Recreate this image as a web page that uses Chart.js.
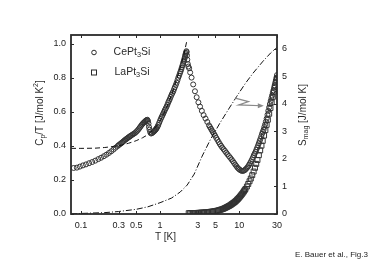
<!DOCTYPE html>
<html lang="en">
  <head>
    <meta charset="utf-8" />
    <title>CePt3Si specific heat</title>
    <style>
      html, body { margin: 0; padding: 0; background: #fff; }
      #wrap { width: 382px; height: 270px; }
    </style>
  </head>
  <body>
    <div id="wrap"><canvas id="chart" width="382" height="270"></canvas></div>
    <script src="https://cdn.jsdelivr.net/npm/chart.js@4/dist/chart.umd.min.js"></script>
    <script>
      // CePt3Si, Cp/T (circles)
      const ceT = [0.081, 0.089, 0.097, 0.106, 0.116, 0.127, 0.139, 0.152, 0.166, 0.18, 0.195, 0.21, 0.226, 0.242,
        0.258, 0.275, 0.292, 0.31, 0.33, 0.35, 0.37, 0.39, 0.41, 0.43, 0.46, 0.49, 0.52, 0.55, 0.58, 0.61, 0.64,
        0.665, 0.69, 0.705, 0.715, 0.725, 0.735, 0.75, 0.77, 0.79, 0.82, 0.85, 0.88, 0.91, 0.95, 1.0, 1.05, 1.1,
        1.15, 1.21, 1.27, 1.33, 1.4, 1.47, 1.54, 1.62, 1.7, 1.78, 1.85, 1.92, 1.98, 2.03, 2.08, 2.12, 2.15, 2.17,
        2.19, 2.21, 2.24, 2.28, 2.33, 2.4, 2.5, 2.62, 2.76, 2.9, 3.05, 3.2, 3.37, 3.55, 3.75, 3.95, 4.15, 4.4,
        4.65, 4.95, 5.3, 5.7, 6.1, 6.6, 7.1, 7.7, 8.3, 8.9, 9.5, 10.1, 10.8, 11.5, 12.2, 13.0, 13.7, 14.5, 15.3,
        16.1, 16.9, 17.7, 18.5, 19.4, 20.3, 21.2, 22.2, 23.3, 24.4, 25.5, 26.5, 27.5, 28.5, 29.5];
      const ceCp = [0.27, 0.272, 0.278, 0.285, 0.291, 0.298, 0.305, 0.313, 0.322, 0.33, 0.339, 0.348, 0.358, 0.368,
        0.378, 0.389, 0.399, 0.409, 0.419, 0.429, 0.438, 0.446, 0.453, 0.46, 0.469, 0.478, 0.49, 0.505, 0.52, 0.532,
        0.541, 0.548, 0.553, 0.545, 0.53, 0.51, 0.495, 0.48, 0.472, 0.474, 0.48, 0.488, 0.495, 0.505, 0.522, 0.548,
        0.57, 0.59, 0.61, 0.63, 0.655, 0.675, 0.7, 0.72, 0.745, 0.77, 0.8, 0.825, 0.848, 0.872, 0.893, 0.91, 0.93,
        0.945, 0.955, 0.95, 0.93, 0.905, 0.88, 0.865, 0.855, 0.83, 0.8, 0.76, 0.72, 0.685, 0.655, 0.63, 0.605,
        0.58, 0.56, 0.54, 0.52, 0.5, 0.48, 0.46, 0.435, 0.41, 0.39, 0.37, 0.35, 0.33, 0.31, 0.29, 0.272, 0.26,
        0.253, 0.255, 0.265, 0.28, 0.298, 0.32, 0.345, 0.365, 0.39, 0.415, 0.44, 0.47, 0.494, 0.525, 0.56, 0.605,
        0.645, 0.68, 0.71, 0.74, 0.77, 0.8];
      // CePt3Si, further readings where the symbols crowd into a dark band
      const ceDenseT = [0.30, 0.32, 0.34, 0.36, 0.38, 0.40, 0.42, 0.445, 0.475, 0.505, 0.535, 0.565, 0.595, 0.625,
        0.652, 0.678, 0.835, 0.865, 0.895, 0.93, 0.975, 1.025, 1.075, 1.125, 1.18, 1.24, 1.30, 1.365, 1.435, 1.505,
        1.58, 1.66, 1.74, 1.815, 1.885, 1.95, 2.005, 2.055, 2.10, 4.27, 4.52, 4.8, 5.12, 5.5, 5.9, 6.35, 6.85, 7.4,
        8.0, 8.6, 9.2, 9.8, 10.45, 11.15, 11.85, 12.6, 13.35, 14.1, 14.9, 15.7, 16.5, 17.3, 18.1, 18.95, 19.85,
        20.75, 21.7, 22.75, 23.85, 24.95, 26.0, 27.0, 28.0, 29.0, 30.0];
      const ceDenseCp = [0.404, 0.414, 0.424, 0.434, 0.442, 0.45, 0.457, 0.465, 0.473, 0.484, 0.497, 0.512, 0.526,
        0.537, 0.545, 0.551, 0.484, 0.491, 0.5, 0.513, 0.535, 0.56, 0.58, 0.6, 0.62, 0.642, 0.665, 0.688, 0.71,
        0.733, 0.757, 0.785, 0.812, 0.836, 0.86, 0.882, 0.9, 0.92, 0.938, 0.51, 0.49, 0.47, 0.447, 0.422, 0.4,
        0.38, 0.36, 0.34, 0.32, 0.3, 0.281, 0.266, 0.256, 0.253, 0.259, 0.272, 0.289, 0.309, 0.332, 0.355, 0.378,
        0.402, 0.428, 0.455, 0.482, 0.51, 0.542, 0.582, 0.625, 0.663, 0.695, 0.725, 0.755, 0.785, 0.815];

      // LaPt3Si, Cp/T (squares)
      const laT = [2.3, 2.5, 2.7, 2.9, 3.1, 3.35, 3.6, 3.9, 4.2, 4.5, 4.85, 5.2, 5.6, 6.0, 6.4, 6.8, 7.2, 7.6, 8.0,
        8.4, 8.8, 9.2, 9.6, 10.0, 10.5, 11.0, 11.5, 12.0, 12.5, 13.0, 13.5, 14.0, 14.6, 15.2, 15.8, 16.4, 17.0,
        17.7, 18.4, 19.1, 19.8, 20.6, 21.4, 22.2, 23.0, 23.9, 24.8, 25.7, 26.6, 27.5, 28.4, 29.3, 30.0];
      const laCp = [0.005, 0.005, 0.006, 0.006, 0.007, 0.008, 0.009, 0.01, 0.012, 0.014, 0.016, 0.019, 0.023, 0.027,
        0.032, 0.038, 0.044, 0.05, 0.057, 0.064, 0.071, 0.079, 0.088, 0.097, 0.109, 0.121, 0.134, 0.147, 0.161,
        0.176, 0.192, 0.208, 0.228, 0.249, 0.271, 0.294, 0.317, 0.345, 0.373, 0.401, 0.429, 0.46, 0.492, 0.523,
        0.553, 0.588, 0.622, 0.655, 0.687, 0.718, 0.748, 0.776, 0.795];
      const laDenseT = [2.4, 2.6, 2.8, 3.0, 3.22, 3.47, 3.75, 4.05, 4.35, 4.67, 5.02, 5.4, 5.8, 6.2, 6.6, 7.0, 7.4,
        7.8, 8.2, 8.6, 9.0, 9.4, 9.8, 10.25, 10.75, 11.25, 11.75];
      const laDenseCp = [0.005, 0.005, 0.006, 0.0065, 0.0075, 0.0085, 0.0095, 0.011, 0.013, 0.015, 0.0175, 0.021,
        0.025, 0.0295, 0.035, 0.041, 0.047, 0.0535, 0.0605, 0.0675, 0.075, 0.0835, 0.0925, 0.103, 0.115, 0.1275,
        0.1405];

      // fit to Cp/T (dashed)
      const fitT = [0.075, 0.1, 0.15, 0.2, 0.3, 0.4, 0.5, 0.6, 0.7, 0.8, 0.9, 1.0, 1.2, 1.4, 1.6, 1.8, 2.0, 2.2];
      const fitCp = [0.385, 0.385, 0.386, 0.39, 0.4, 0.415, 0.43, 0.447, 0.465, 0.49, 0.515, 0.545, 0.62, 0.7,
        0.78, 0.86, 0.935, 1.025];

      // magnetic entropy (dash-dot, right axis)
      const sT = [0.075, 0.1, 0.2, 0.3, 0.5, 0.7, 1.0, 1.4, 1.8, 2.2, 2.7, 3.4, 4.3, 5.7, 7.5, 9.3, 12, 15, 20, 25, 30];
      const sMag = [0.0, 0.02, 0.05, 0.09, 0.17, 0.26, 0.41, 0.58, 0.8, 1.05, 1.45, 2.1, 2.69, 3.3, 3.85, 4.27,
        4.75, 5.12, 5.55, 5.85, 6.05];

      const xTicks = [0.1, 0.3, 0.5, 1, 3, 5, 10, 30];
      const cpTicks = [0, 0.2, 0.4, 0.6, 0.8, 1.0];
      const sTicks = [0, 1, 2, 3, 4, 5, 6];

      // arrow pointing from the entropy curve to the right axis (T, S)
      const arrowPath = [[8.9, 4.21], [13.1, 4.08], [9.84, 3.96], [19.3, 3.93]];

      const pairs = (xs, ys) => xs.map((x, i) => ({ x: x, y: ys[i] }));
      const FONT = "'Liberation Sans', Arial, sans-serif";
      const INK = '#2b2b2b';

      // draw text made of normal / sub / sup pieces, centred on (x, y)
      function richText(ctx, parts, x, y, size) {
        const pieces = parts.map(p => {
          const s = p.k ? size * 0.7 : size;
          ctx.font = s + 'px ' + FONT;
          return { t: p.t, k: p.k, s: s, w: ctx.measureText(p.t).width };
        });
        const total = pieces.reduce((a, p) => a + p.w, 0);
        let cx = x - total / 2;
        ctx.textBaseline = 'middle';
        ctx.textAlign = 'left';
        pieces.forEach(p => {
          ctx.font = p.s + 'px ' + FONT;
          let dy = 0;
          if (p.k === 'sub') dy = size * 0.3;
          if (p.k === 'sup') dy = -size * 0.35;
          ctx.fillText(p.t, cx, y + dy);
          cx += p.w;
        });
      }

      const decor = {
        id: 'decor',
        afterDraw(chart) {
          const { ctx, chartArea: a, scales } = chart;
          ctx.save();
          ctx.strokeStyle = INK;
          ctx.fillStyle = INK;

          // inward ticks
          ctx.lineWidth = 1;
          ctx.beginPath();
          xTicks.forEach(v => {
            const px = Math.round(scales.x.getPixelForValue(v)) + 0.5;
            ctx.moveTo(px, a.bottom); ctx.lineTo(px, a.bottom - 3);
            ctx.moveTo(px, a.top); ctx.lineTo(px, a.top + 3);
          });
          cpTicks.forEach(v => {
            const py = Math.round(scales.y.getPixelForValue(v)) + 0.5;
            ctx.moveTo(a.left, py); ctx.lineTo(a.left + 3, py);
          });
          sTicks.forEach(v => {
            const py = Math.round(scales.y2.getPixelForValue(v)) + 0.5;
            ctx.moveTo(a.right, py); ctx.lineTo(a.right - 3, py);
          });
          ctx.stroke();

          // frame
          ctx.lineWidth = 1.8;
          ctx.strokeRect(a.left, a.top, a.width, a.height);

          // legend
          const lx = a.left + 23;
          ctx.lineWidth = 1;
          ctx.beginPath();
          ctx.arc(lx, a.top + 17.5, 2.3, 0, Math.PI * 2);
          ctx.stroke();
          ctx.strokeRect(lx - 2.5, a.top + 35, 5, 5);
          richText(ctx, [{ t: 'CePt' }, { t: '3', k: 'sub' }, { t: 'Si' }], a.left + 61, a.top + 17, 10.5);
          richText(ctx, [{ t: 'LaPt' }, { t: '3', k: 'sub' }, { t: 'Si' }], a.left + 61, a.top + 37, 10.5);

          // axis titles
          richText(ctx, [{ t: 'T [K]' }], 165.5, 237, 10);
          ctx.save();
          ctx.translate(40, 113);
          ctx.rotate(-Math.PI / 2);
          richText(ctx, [{ t: 'C' }, { t: 'p', k: 'sub' }, { t: '/T [J/mol K' }, { t: '2', k: 'sup' }, { t: ']' }], 0, 0, 10);
          ctx.restore();
          ctx.save();
          ctx.translate(303, 115);
          ctx.rotate(-Math.PI / 2);
          richText(ctx, [{ t: 'S' }, { t: 'mag', k: 'sub' }, { t: ' [J/mol K]' }], 0, 0, 10);
          ctx.restore();

          // arrow
          const pts = arrowPath.map(p => [scales.x.getPixelForValue(p[0]), scales.y2.getPixelForValue(p[1])]);
          ctx.strokeStyle = '#8a8a8a';
          ctx.fillStyle = '#8a8a8a';
          ctx.lineWidth = 1.2;
          ctx.beginPath();
          pts.forEach((p, i) => (i ? ctx.lineTo(p[0], p[1]) : ctx.moveTo(p[0], p[1])));
          ctx.stroke();
          const e = pts[pts.length - 1];
          ctx.beginPath();
          ctx.moveTo(e[0] + 2, e[1]);
          ctx.lineTo(e[0] - 4, e[1] - 2.5);
          ctx.lineTo(e[0] - 4, e[1] + 2.5);
          ctx.closePath();
          ctx.fill();

          // credit
          ctx.fillStyle = '#222';
          ctx.font = '8px ' + FONT;
          ctx.textAlign = 'left';
          ctx.textBaseline = 'middle';
          ctx.fillText('E. Bauer et al., Fig.3', 295, 255);
          ctx.restore();
        }
      };

      const tickFont = { family: FONT, size: 9 };

      new Chart(document.getElementById('chart'), {
        type: 'scatter',
        data: {
          datasets: [{
            label: 'fit',
            data: pairs(fitT, fitCp),
            yAxisID: 'y',
            showLine: true,
            pointRadius: 0,
            borderColor: '#111',
            borderWidth: 1,
            borderDash: [5, 3]
          }, {
            label: 'Smag',
            data: pairs(sT, sMag),
            yAxisID: 'y2',
            showLine: true,
            pointRadius: 0,
            borderColor: '#111',
            borderWidth: 1,
            borderDash: [6, 2, 1, 2]
          }, {
            label: 'LaPt3Si',
            data: pairs(laT, laCp).concat(pairs(laDenseT, laDenseCp)),
            yAxisID: 'y',
            pointStyle: 'rect',
            pointRadius: 3.5,
            borderColor: '#333',
            backgroundColor: 'rgba(255,255,255,0)',
            borderWidth: 1
          }, {
            label: 'CePt3Si',
            data: pairs(ceT, ceCp).concat(pairs(ceDenseT, ceDenseCp)),
            yAxisID: 'y',
            pointStyle: 'circle',
            pointRadius: 2.5,
            borderColor: '#333',
            backgroundColor: 'rgba(255,255,255,0)',
            borderWidth: 1
          }]
        },
        options: {
          responsive: false,
          animation: false,
          events: [],
          layout: { padding: { top: 35, left: 0, right: 0, bottom: 0 } },
          plugins: { legend: { display: false }, tooltip: { enabled: false } },
          scales: {
            x: {
              type: 'logarithmic',
              min: 0.075,
              max: 30,
              grid: { display: false, drawTicks: false },
              border: { display: false },
              afterBuildTicks: s => { s.ticks = xTicks.map(v => ({ value: v })); },
              afterFit: s => { s.height = 56; },
              ticks: {
                autoSkip: false,
                maxRotation: 0,
                padding: 6,
                color: '#222',
                font: tickFont,
                callback: v => String(v)
              }
            },
            y: {
              position: 'left',
              min: 0,
              max: 1.05,
              grid: { display: false, drawTicks: false },
              border: { display: false },
              afterBuildTicks: s => { s.ticks = cpTicks.map(v => ({ value: v })); },
              afterFit: s => { s.width = 71; },
              ticks: { padding: 5, color: '#222', font: tickFont, callback: v => v.toFixed(1) }
            },
            y2: {
              position: 'right',
              min: 0,
              max: 6.5,
              grid: { display: false, drawTicks: false },
              border: { display: false },
              afterBuildTicks: s => { s.ticks = sTicks.map(v => ({ value: v })); },
              afterFit: s => { s.width = 105; },
              ticks: { padding: 5, color: '#222', font: tickFont, callback: v => String(v) }
            }
          }
        },
        plugins: [decor]
      });
    </script>
  </body>
</html>
